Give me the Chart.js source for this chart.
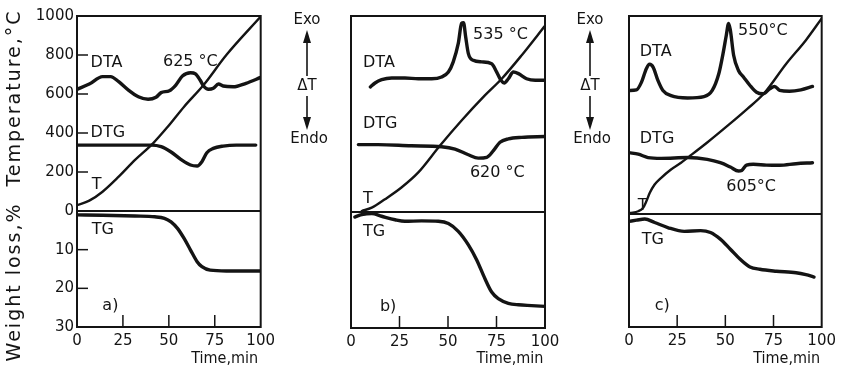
<!DOCTYPE html>
<html><head><meta charset="utf-8">
<script src="https://cdn.jsdelivr.net/npm/chart.js@4.4.1/dist/chart.umd.min.js"></script>
<style>
html,body{margin:0;padding:0;background:#fff;}
body{width:841px;height:377px;position:relative;overflow:hidden;}
.p{position:absolute;top:0;height:377px;}
</style></head><body>
<div class="p" style="left:0;width:280px"><canvas id="ca"></canvas></div>
<div class="p" style="left:280px;width:285px"><canvas id="cb"></canvas></div>
<div class="p" style="left:560px;width:281px"><canvas id="cc"></canvas></div>
<script>
// ---------- tick labels ----------
const timeTicks = [0, 25, 50, 75, 100];
const tempTicks = [0, 200, 400, 600, 800, 1000];
const weightTicks = [10, 20, 30];

// ---------- panel a ----------
const aDtaTime = [0, 6.7, 13.9, 18.3, 22.7, 28, 33.4, 38.7, 43, 45.8, 50.3, 53.8, 57.4, 61.8, 64.5, 67, 68.9, 71.6, 74.2, 77, 79.6, 85, 92, 100];
const aDtaVal  = [624, 651, 689, 689, 663, 620, 586, 573, 583, 607, 617, 646, 692, 709, 703, 672, 641, 624, 629, 651, 641, 637, 655, 685];
const aDtgTime = [0, 40.5, 45.8, 51, 56.5, 61.8, 65.4, 68, 70.7, 74.2, 79.6, 86.7, 97.3];
const aDtgVal  = [338, 338, 330, 304, 265, 236, 231, 253, 299, 321, 333, 338, 338];
const aTTime   = [0, 6.7, 13.9, 22.7, 31.6, 41.4, 49.4, 58.3, 68.9, 81.3, 100];
const aTVal    = [30, 53, 99, 176, 262, 347, 432, 535, 646, 800, 997];
const aTgTime  = [0, 13.9, 31.6, 42.3, 47.6, 51.2, 54.7, 58.3, 61.8, 65.4, 68, 72.5, 81.3, 100];
const aTgVal   = [1.0, 1.1, 1.3, 1.5, 1.9, 2.8, 4.5, 7.1, 10.1, 13.1, 14.4, 15.3, 15.5, 15.5];

// ---------- panel b ----------
const bDtaTime = [10, 12.4, 15.8, 21, 27.8, 34.7, 41.6, 46.7, 50.2, 52.7, 55.3, 57, 58, 59.1, 60.5, 63, 67.4, 72.5, 75.1, 77.3, 79, 81.1, 83.7, 86.3, 90.5, 95, 100];
const bDtaVal  = [638, 658, 675, 684, 684, 680, 680, 689, 714, 766, 860, 962, 966, 894, 808, 774, 766, 757, 714, 672, 658, 680, 714, 706, 680, 672, 672];
const bDtgTime = [3.8, 14, 31, 46.7, 53.6, 60.5, 65.6, 70, 73.4, 76.8, 81.1, 88, 100];
const bDtgVal  = [344, 344, 338, 333, 321, 292, 275, 279, 313, 356, 373, 381, 385];
const bTTime   = [5.5, 10.7, 17.5, 26, 34.7, 45.8, 57, 69, 77.7, 88, 100];
const bTVal    = [5, 22, 65, 125, 202, 338, 467, 595, 680, 800, 950];
const bTgTime  = [2, 5.5, 10.7, 15.8, 22.7, 27.8, 36.4, 45, 50.2, 55.3, 60.5, 64.8, 69, 72.5, 75.9, 81.1, 86.3, 93.1, 100];
const bTgVal   = [1.3, 0.7, 0.4, 1.1, 2.0, 2.4, 2.3, 2.4, 3.0, 5.0, 8.5, 12.4, 17.2, 20.7, 22.4, 23.6, 24, 24.2, 24.4];

// ---------- panel c ----------
const cDtaTime = [0, 3.9, 6.5, 9, 10.7, 12.5, 15, 17.6, 21.8, 30.4, 38.9, 43.2, 46.6, 48.8, 50.5, 51.7, 52.6, 54.3, 56.8, 59.4, 62.8, 66.2, 69.6, 73, 75.6, 78.2, 83.3, 89.2, 95.2];
const cDtaVal  = [624, 627, 666, 734, 756, 742, 675, 624, 598, 586, 593, 624, 708, 810, 903, 963, 929, 802, 725, 692, 649, 615, 607, 632, 644, 624, 620, 627, 644];
const cDtgTime = [0, 4.8, 9.9, 16.7, 30.4, 40.6, 47.4, 52.6, 56.8, 58.5, 61, 64.5, 71.3, 78.2, 86.7, 95.2];
const cDtgVal  = [310, 302, 285, 281, 285, 276, 259, 237, 217, 220, 247, 251, 247, 246, 254, 259];
const cTTime   = [0.5, 4.8, 7.3, 9.0, 10.8, 13.3, 16.7, 21.8, 27, 31.2, 40.6, 51.2, 61.4, 69.9, 81.6, 91.8, 100];
const cTVal    = [5, 14, 31, 64, 107, 149, 183, 225, 259, 290, 361, 446, 531, 607, 759, 878, 988];
const cTgTime  = [0, 3.9, 8.2, 13.3, 20.1, 28.7, 37.2, 42.3, 47.4, 52.6, 57.7, 62.8, 67.9, 76.5, 86.7, 91.8, 96];
const cTgVal   = [1.9, 1.6, 1.3, 2.2, 3.5, 4.5, 4.3, 4.8, 6.5, 9.1, 11.7, 13.7, 14.3, 14.8, 15.2, 15.7, 16.3];

// ---------- in-plot labels (time, value, axis) ----------
const aLabels = [
  ['DTA', 7.4, 760, 'y'], ['625 °C', 46.8, 766, 'y'], ['DTG', 7.4, 401, 'y'],
  ['T', 8, 133, 'y'], ['TG', 8, 5.0, 'y2'], ['a)', 13.8, 24.5, 'y2']
];
const bLabels = [
  ['DTA', 6.2, 760, 'y'], ['535 °C', 62.9, 903, 'y'], ['DTG', 6.2, 451, 'y'],
  ['620 °C', 61.3, 201, 'y'], ['T', 6.2, 67, 'y'], ['TG', 6.2, 5.2, 'y2'], ['b)', 14.9, 24.6, 'y2']
];
const cLabels = [
  ['DTA', 5.6, 819, 'y'], ['550°C', 56.6, 926, 'y'], ['DTG', 5.6, 382, 'y'],
  ['605°C', 50.5, 136, 'y'], ['T', 4.6, 43, 'y'], ['TG', 6.6, 6.8, 'y2'], ['c)', 13.3, 23.8, 'y2']
];

// ---------- styling / layout ----------
const INK = '#141414';
const FONT = 'DejaVu Sans';
const COND = '"DejaVu Sans Condensed", "DejaVu Sans"';
const PX_PER_PCT = 3.867;
Chart.defaults.font.family = FONT;
Chart.defaults.color = INK;

function pts(t, v) { return t.map((x, i) => ({ x: x, y: v[i] })); }

function drawExo(ctx, cx) {
  ctx.save();
  ctx.fillStyle = INK; ctx.strokeStyle = INK; ctx.lineWidth = 1.6;
  ctx.font = '15px ' + FONT; ctx.textAlign = 'center'; ctx.textBaseline = 'middle';
  ctx.fillText('Exo', cx, 20);
  ctx.fillText('ΔT', cx, 86);
  ctx.fillText('Endo', cx + 2, 139);
  ctx.beginPath(); ctx.moveTo(cx, 42); ctx.lineTo(cx, 76); ctx.stroke();
  ctx.beginPath(); ctx.moveTo(cx, 96); ctx.lineTo(cx, 118); ctx.stroke();
  ctx.beginPath(); ctx.moveTo(cx, 30); ctx.lineTo(cx - 4, 43); ctx.lineTo(cx + 4, 43); ctx.closePath(); ctx.fill();
  ctx.beginPath(); ctx.moveTo(cx, 130); ctx.lineTo(cx - 4, 117); ctx.lineTo(cx + 4, 117); ctx.closePath(); ctx.fill();
  ctx.restore();
}

function makePanel(id, g, series, labels, extra) {
  const upper = g.zero - g.top, lower = g.bottom - g.zero;
  const tMin = -1000 * lower / upper;
  const wMax = lower / PX_PER_PCT, wMin = -upper / PX_PER_PCT;
  const wToT = w => -w * 1000 * PX_PER_PCT / upper;
  const labelMap = new Map();
  tempTicks.forEach(v => labelMap.set(Math.round(v * 100), String(v)));
  weightTicks.forEach(w => labelMap.set(Math.round(wToT(w) * 100), String(w)));

  const deco = {
    id: 'deco' + id,
    afterDatasetsDraw(chart) {
      const { ctx, chartArea: ca, scales } = chart;
      const x = scales.x, y = scales.y, y2 = scales.y2;
      ctx.save();
      ctx.strokeStyle = INK; ctx.lineWidth = 2;
      ctx.strokeRect(ca.left, ca.top, ca.right - ca.left, ca.bottom - ca.top);
      const y0 = y.getPixelForValue(0);
      ctx.beginPath(); ctx.moveTo(ca.left, y0); ctx.lineTo(ca.right, y0); ctx.stroke();
      ctx.lineWidth = 1.5;
      timeTicks.forEach(v => {
        if (v <= 0 || v >= 100) return;
        const px = x.getPixelForValue(v);
        ctx.beginPath(); ctx.moveTo(px, ca.bottom); ctx.lineTo(px, ca.bottom - 12); ctx.stroke();
      });
      if (g.yTicks) {
        tempTicks.forEach(v => {
          if (v <= 0 || v >= 1000) return;
          const py = y.getPixelForValue(v);
          ctx.beginPath(); ctx.moveTo(ca.left, py); ctx.lineTo(ca.left + 11, py); ctx.stroke();
        });
        weightTicks.forEach(w => {
          if (w >= 30) return;
          const py = y2.getPixelForValue(w);
          ctx.beginPath(); ctx.moveTo(ca.left, py); ctx.lineTo(ca.left + 11, py); ctx.stroke();
        });
      }
      ctx.fillStyle = INK;
      ctx.font = '16px ' + FONT; ctx.textAlign = 'left'; ctx.textBaseline = 'middle';
      labels.forEach(l => {
        const sc = l[3] === 'y2' ? y2 : y;
        ctx.fillText(l[0], x.getPixelForValue(l[1]), sc.getPixelForValue(l[2]));
      });
      ctx.textAlign = 'center';
      ctx.font = '16px ' + COND;
      ctx.fillText('Time,min', ca.right + g.titleDx, g.titleY);
      if (extra) extra(ctx, chart);
      ctx.restore();
    }
  };

  const datasets = series.map(s => ({
    data: pts(s[0], s[1]), yAxisID: s[2], borderColor: INK, borderWidth: s[3],
    pointRadius: 0, fill: false, cubicInterpolationMode: 'monotone', borderCapStyle: 'round', borderJoinStyle: 'round'
  }));

  return new Chart(document.getElementById(id), {
    type: 'line',
    data: { datasets },
    plugins: [deco],
    options: {
      responsive: true, maintainAspectRatio: false, animation: false, devicePixelRatio: 1,
      layout: { padding: { left: g.padLeft, right: g.padRight, top: g.top, bottom: 0 } },
      plugins: { legend: { display: false }, tooltip: { enabled: false } },
      scales: {
        x: {
          type: 'linear', min: 0, max: 100,
          grid: { display: false, drawTicks: false }, border: { display: false },
          ticks: { font: { size: 15 }, color: INK, padding: 5, autoSkip: false, maxRotation: 0 },
          afterBuildTicks: s => { s.ticks = timeTicks.map(v => ({ value: v })); },
          afterFit: s => { s.height = 377 - g.bottom; }
        },
        y: {
          type: 'linear', min: tMin, max: 1000, display: g.yTicks, position: 'left',
          grid: { display: false, drawTicks: false }, border: { display: false },
          ticks: {
            font: { size: 15 }, color: INK, padding: 3, autoSkip: false,
            callback: v => labelMap.get(Math.round(v * 100)) || ''
          },
          afterBuildTicks: s => {
            s.ticks = tempTicks.map(v => ({ value: v })).concat(weightTicks.map(w => ({ value: wToT(w) })));
          },
          afterFit: s => { s.width = g.yWidth; }
        },
        y2: { type: 'linear', min: wMin, max: wMax, reverse: true, display: false }
      }
    }
  });
}

makePanel('ca',
  { top: 16, zero: 211, bottom: 327, padLeft: 0, padRight: 15, yWidth: 77, yTicks: true, titleDx: -36, titleY: 359 },
  [[aDtaTime, aDtaVal, 'y', 3.4], [aDtgTime, aDtgVal, 'y', 3.4], [aTTime, aTVal, 'y', 2.4], [aTgTime, aTgVal, 'y2', 3.4]],
  aLabels,
  (ctx) => {
    ctx.save();
    ctx.fillStyle = INK; ctx.font = '19px ' + FONT;
    ctx.textAlign = 'center'; ctx.textBaseline = 'middle';
    try { ctx.letterSpacing = '2px'; } catch (e) {}
    ctx.translate(15, 98); ctx.rotate(-Math.PI / 2);
    ctx.fillText('Temperature,°C', 0, 0);
    ctx.rotate(Math.PI / 2); ctx.translate(0, 184); ctx.rotate(-Math.PI / 2);
    ctx.fillText('Weight loss,%', 0, 0);
    ctx.restore();
  });

makePanel('cb',
  { top: 16, zero: 212, bottom: 328, padLeft: 71, padRight: 20, yWidth: 0, yTicks: false, titleDx: -35, titleY: 359 },
  [[bDtaTime, bDtaVal, 'y', 3.4], [bDtgTime, bDtgVal, 'y', 3.4], [bTTime, bTVal, 'y', 2.4], [bTgTime, bTgVal, 'y2', 3.4]],
  bLabels,
  (ctx) => drawExo(ctx, 27));

makePanel('cc',
  { top: 16, zero: 214, bottom: 327, padLeft: 69, padRight: 16, yWidth: 0, yTicks: false, titleDx: -35, titleY: 359 },
  [[cDtaTime, cDtaVal, 'y', 3.4], [cDtgTime, cDtgVal, 'y', 3.4], [cTTime, cTVal, 'y', 2.4], [cTgTime, cTgVal, 'y2', 3.4]],
  cLabels,
  (ctx) => drawExo(ctx, 30));
</script>
</body></html>
